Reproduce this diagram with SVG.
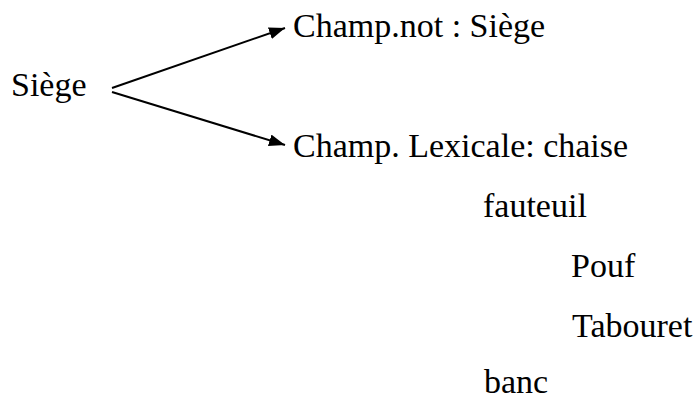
<svg xmlns="http://www.w3.org/2000/svg" width="698" height="397" viewBox="0 0 698 397">
<style>
text{font-family:"Liberation Serif","Times New Roman",Times,serif;font-size:34px;fill:#000}
.c{stroke:#000;stroke-width:2;fill:none}
</style>
<defs>
<marker id="ah" viewBox="0 0 16 12" refX="16" refY="6" markerWidth="16" markerHeight="12" markerUnits="userSpaceOnUse" orient="auto">
<path d="M0,0 L16,6 L0,12 Z" fill="#000"/>
</marker>
</defs>
<rect width="698" height="397" fill="#fff"/>
<g id="connectors">
<line class="c" x1="112" y1="88" x2="285" y2="28" marker-end="url(#ah)"/>
<line class="c" x1="112" y1="92" x2="285" y2="145" marker-end="url(#ah)"/>
</g>
<g font-family="Liberation Serif, serif">
<g id="siege"><text x="11" y="96">Siège</text></g>
<g id="champ-not"><text x="293" y="37">Champ.not : Siège</text></g>
<g id="champ-lex"><text x="293" y="157">Champ. Lexicale: chaise</text></g>
<g id="fauteuil"><text x="483" y="217">fauteuil</text></g>
<g id="pouf"><text x="571" y="277">Pouf</text></g>
<g id="tabouret"><text x="572" y="337">Tabouret</text></g>
<g id="banc"><text x="484" y="393">banc</text></g>
</g>
</svg>
